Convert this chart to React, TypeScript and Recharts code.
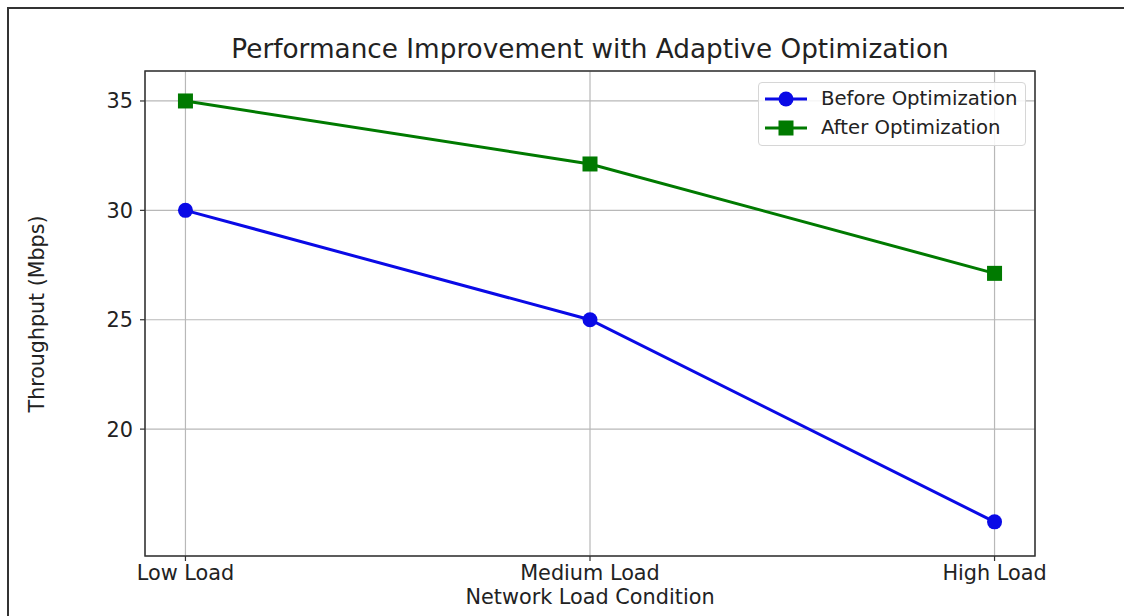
import React from 'react';
import { LineChart, Line, XAxis, YAxis, CartesianGrid, ReferenceArea } from 'recharts';

const categories = ['Low Load', 'Medium Load', 'High Load'];
const beforeValues = [30, 25, 15.76];
const afterValues = [35, 32.12, 27.12];
const yTicks = [20, 25, 30, 35];
const xTicks = [0, 1, 2];

const data = categories.map((c, i) => ({ idx: i, name: c, before: beforeValues[i], after: afterValues[i] }));

const FONT = '"DejaVu Sans", sans-serif';
const BLUE = '#0a0ae6';
const GREEN = '#007a00';
const X_DOMAIN: [number, number] = [-0.1, 2.1];
const Y_DOMAIN: [number, number] = [14.2, 36.37];

const SquareDot = (props: any) => {
  const { cx, cy } = props;
  if (cx == null || cy == null) return null;
  return <rect x={cx - 7.5} y={cy - 7.5} width={15} height={15} fill={GREEN} />;
};

const LegendBox = () => (
  <div
    style={{
      position: 'absolute',
      left: 758,
      top: 82,
      width: 268,
      height: 64,
      border: '1px solid #d6d6d6',
      borderRadius: 4,
      background: 'rgba(255,255,255,0.85)',
      boxSizing: 'border-box',
      fontFamily: FONT,
      fontSize: 19.7,
      color: '#222',
    }}
  >
    <svg width={50} height={62} style={{ position: 'absolute', left: 5, top: 0 }}>
      <line x1={1} y1={16} x2={43} y2={16} stroke={BLUE} strokeWidth={3} />
      <circle cx={22} cy={16} r={7.5} fill={BLUE} />
      <line x1={1} y1={45} x2={43} y2={45} stroke={GREEN} strokeWidth={3} />
      <rect x={14.5} y={37.5} width={15} height={15} fill={GREEN} />
    </svg>
    <div style={{ position: 'absolute', left: 62, top: 4, lineHeight: '24px', whiteSpace: 'nowrap' }}>Before Optimization</div>
    <div style={{ position: 'absolute', left: 62, top: 33, lineHeight: '24px', whiteSpace: 'nowrap' }}>After Optimization</div>
  </div>
);

export default function App() {
  return (
    <div style={{ position: 'absolute', left: 0, top: 0, width: 1126, height: 616, background: '#fff', overflow: 'hidden' }}>
      <div style={{ position: 'absolute', left: 7, top: 7, width: 1117, height: 1.5, background: '#333' }} />
      <div style={{ position: 'absolute', left: 7, top: 7, width: 1.5, height: 609, background: '#333' }} />
      <div
        style={{
          position: 'absolute',
          left: 0,
          width: 1180,
          top: 33,
          textAlign: 'center',
          fontFamily: FONT,
          fontSize: 26.3,
          color: '#222',
          lineHeight: '32px',
          whiteSpace: 'nowrap',
        }}
      >
        Performance Improvement with Adaptive Optimization
      </div>
      <div
        style={{
          position: 'absolute',
          left: 0,
          width: 1180,
          top: 584,
          textAlign: 'center',
          fontFamily: FONT,
          fontSize: 20.8,
          color: '#222',
          lineHeight: '26px',
          whiteSpace: 'nowrap',
        }}
      >
        Network Load Condition
      </div>
      <div
        style={{
          position: 'absolute',
          left: 37 - 150,
          top: 314 - 13,
          width: 300,
          textAlign: 'center',
          transform: 'rotate(-90deg)',
          fontFamily: FONT,
          fontSize: 20.6,
          color: '#222',
          lineHeight: '26px',
          whiteSpace: 'nowrap',
        }}
      >
        Throughput (Mbps)
      </div>
      <LineChart
        width={1126}
        height={616}
        data={data}
        margin={{ top: 71, right: 91, bottom: 0, left: 85 }}
        style={{ position: 'absolute', left: 0, top: 0 }}
      >
        <CartesianGrid stroke="#b8b8b8" strokeWidth={1.2} />
        <XAxis
          dataKey="idx"
          type="number"
          domain={X_DOMAIN}
          ticks={xTicks}
          tickFormatter={(v: number) => categories[v] ?? ''}
          height={60}
          axisLine={false}
          tickSize={5}
          tickMargin={4}
          tickLine={{ stroke: '#333', strokeWidth: 1.2 }}
          tick={{ fill: '#222', fontSize: 20.8, fontFamily: FONT }}
          allowDataOverflow
        />
        <YAxis
          type="number"
          domain={Y_DOMAIN}
          ticks={yTicks}
          width={60}
          axisLine={false}
          tickSize={5}
          tickMargin={7}
          tickLine={{ stroke: '#333', strokeWidth: 1.2 }}
          tick={{ fill: '#222', fontSize: 20.8, fontFamily: FONT }}
          allowDataOverflow
        />
        <ReferenceArea
          x1={X_DOMAIN[0]}
          x2={X_DOMAIN[1]}
          y1={Y_DOMAIN[0]}
          y2={Y_DOMAIN[1]}
          fill="none"
          fillOpacity={0}
          stroke="#333"
          strokeWidth={1.5}
          ifOverflow="visible"
        />
        <Line
          dataKey="before"
          stroke={BLUE}
          strokeWidth={3}
          dot={{ r: 7.5, fill: BLUE, stroke: BLUE, strokeWidth: 0 }}
          activeDot={false}
          isAnimationActive={false}
        />
        <Line
          dataKey="after"
          stroke={GREEN}
          strokeWidth={3}
          dot={<SquareDot />}
          activeDot={false}
          isAnimationActive={false}
        />
      </LineChart>
      <LegendBox />
    </div>
  );
}
